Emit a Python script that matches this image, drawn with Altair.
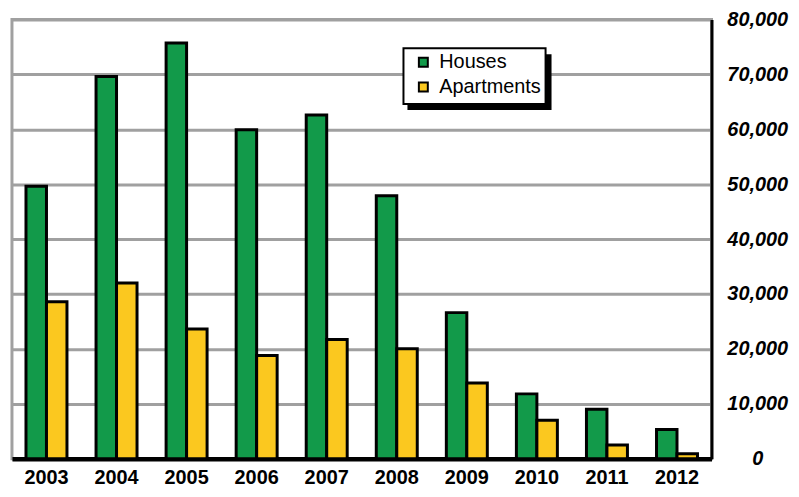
import altair as alt
import pandas as pd

years = ["2003", "2004", "2005", "2006", "2007", "2008", "2009", "2010", "2011", "2012"]
houses = [49600, 69600, 75700, 59900, 62600, 47900, 26600, 11800, 9000, 5300]
apartments = [28600, 32000, 23600, 18800, 21700, 20000, 13800, 7000, 2500, 900]
series = ["Houses", "Apartments"]
colors = ["#129A4A", "#FBC81F"]
y_ticks = [0, 10000, 20000, 30000, 40000, 50000, 60000, 70000, 80000]

rows = []
for i, yr in enumerate(years):
    rows.append({"year": yr, "series": "Houses", "value": houses[i]})
    rows.append({"year": yr, "series": "Apartments", "value": apartments[i]})
df = pd.DataFrame(rows)

FONT = "Liberation Sans"

bars = alt.Chart(df).mark_bar(stroke="black", strokeWidth=3, strokeOpacity=1).encode(
    x=alt.X(
        "year:N", sort=years,
        scale=alt.Scale(paddingInner=0.415, paddingOuter=0.2),
        axis=alt.Axis(
            title=None, labelAngle=0, ticks=False,
            domainColor="black", domainWidth=4.5,
            labelFont=FONT, labelFontSize=20, labelFontWeight="bold",
            labelColor="black", labelPadding=9,
        ),
    ),
    xOffset=alt.XOffset("series:N", sort=series,
                        scale=alt.Scale(paddingInner=0, paddingOuter=0)),
    y=alt.Y(
        "value:Q",
        scale=alt.Scale(domain=[0, 80000], nice=False),
        axis=alt.Axis(
            orient="right", title=None, values=y_ticks, format=",d",
            ticks=False, domainColor="black", domainWidth=3,
            gridColor="#a0a0a0", gridWidth=3,
            labelFont=FONT, labelFontSize=20, labelFontWeight="bold",
            labelFontStyle="italic", labelColor="black",
            labelAlign="center", labelPadding=46,
        ),
    ),
    color=alt.Color(
        "series:N", sort=series,
        scale=alt.Scale(domain=series, range=colors),
        legend=alt.Legend(
            title=None, orient="none", legendX=404, legendY=33,
            padding=0,
            labelFont=FONT, labelFontSize=20, labelColor="black",
            symbolType="square", symbolSize=81,
            symbolStrokeColor="black", symbolStrokeWidth=2, symbolOpacity=1,
            rowPadding=5, labelOffset=6,
        ),
    ),
)

deco = pd.DataFrame({"a": [0]})
shadow = alt.Chart(deco).mark_rect(color="black").encode(
    x=alt.value(398), x2=alt.value(543), y=alt.value(35), y2=alt.value(91)
)
box = alt.Chart(deco).mark_rect(fill="white", stroke="black", strokeWidth=2).encode(
    x=alt.value(394), x2=alt.value(537), y=alt.value(29), y2=alt.value(85)
)

chart = alt.layer(shadow, box, bars).properties(
    width=704, height=442,
    autosize=alt.AutoSizeParams(type="none"),
    padding={"left": 4, "top": 10, "right": 80, "bottom": 29},
).configure_view(stroke="#a0a0a0", strokeWidth=3)

chart.save("out.html", embed_options={"renderer": "svg", "actions": False})
